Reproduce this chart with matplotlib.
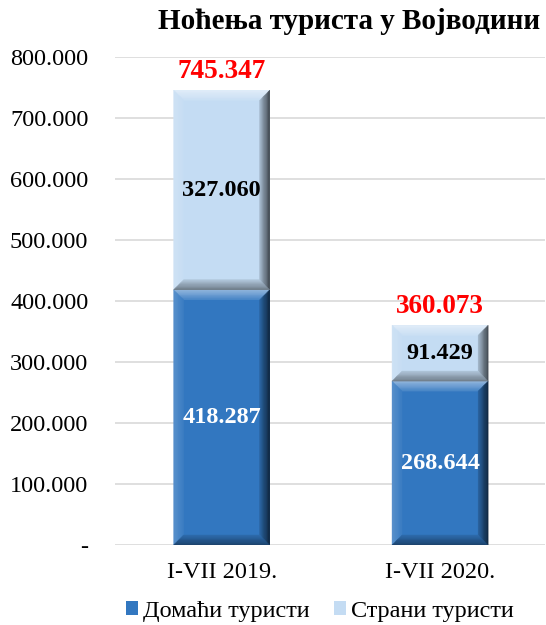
import matplotlib
matplotlib.use('Agg')
import matplotlib.pyplot as plt
from matplotlib.patches import Polygon
import numpy as np

categories = ['I-VII 2019.', 'I-VII 2020.']
domestic = [418287, 268644]
foreign = [327060, 91429]
totals = [745347, 360073]
series_names = ['Домаћи туристи', 'Страни туристи']
yticks = [0, 100000, 200000, 300000, 400000, 500000, 600000, 700000, 800000]
ytick_labels = ['-', '100.000', '200.000', '300.000', '400.000', '500.000', '600.000', '700.000', '800.000']
title = 'Ноћења туриста у Војводини'

plt.rcParams['font.family'] = ['Liberation Serif', 'DejaVu Serif']


def fmt(v):
    return f'{v:,}'.replace(',', '.')


def shade(color, f):
    c = np.array(matplotlib.colors.to_rgb(color))
    if f > 0:
        c = c + (1 - c) * f
    else:
        c = c * (1 + f)
    return tuple(np.clip(c, 0, 1))


# soft bevel built from the bar rectangles (pixel space -> data space)
def bevel(ax, patch, color, d=10, n=12):
    bb = patch.get_window_extent()
    x0, y0, x1, y1 = bb.x0, bb.y0, bb.x1, bb.y1
    inv = ax.transData.inverted()
    tone = {'top': 0.5, 'left': 0.2, 'right': -0.7, 'bottom': -0.45}
    for k in range(n):
        a = d * k / n
        b = d * (k + 1) / n
        frac = 1 - k / n
        quads = {
            'top': [(x0 + a, y1 - a), (x1 - a, y1 - a), (x1 - b, y1 - b), (x0 + b, y1 - b)],
            'left': [(x0 + a, y0 + a), (x0 + a, y1 - a), (x0 + b, y1 - b), (x0 + b, y0 + b)],
            'right': [(x1 - a, y0 + a), (x1 - a, y1 - a), (x1 - b, y1 - b), (x1 - b, y0 + b)],
            'bottom': [(x0 + a, y0 + a), (x1 - a, y0 + a), (x1 - b, y0 + b), (x0 + b, y0 + b)],
        }
        for side, p in quads.items():
            col = shade(color, tone[side] * (0.2 + 0.8 * frac))
            ax.add_patch(Polygon(inv.transform(p), closed=True, facecolor=col,
                                 edgecolor=col, linewidth=0.3, zorder=3))


fig = plt.figure(figsize=(5.46, 6.25), dpi=100)
ax = fig.add_axes([0.21, 0.128, 0.788, 0.781])

x = np.arange(len(categories))
w = 0.44
c_dom = '#3277c0'
c_for = '#c4dcf3'
b1 = ax.bar(x, domestic, w, color=c_dom, zorder=2, label=series_names[0])
b2 = ax.bar(x, foreign, w, bottom=domestic, color=c_for, zorder=2, label=series_names[1])

ax.set_xlim(-0.49, 1.48)
ax.set_ylim(0, 800000)
ax.set_yticks(yticks)
ax.set_yticklabels(ytick_labels, fontsize=17.5)
ax.set_xticks(x)
ax.set_xticklabels(categories, fontsize=17.5)
ax.tick_params(length=0)
ax.tick_params(axis='x', pad=12)
ax.tick_params(axis='y', pad=19)
ax.grid(axis='y', color='#d9d9d9', linewidth=1.2, zorder=0)
ax.set_axisbelow(True)
for s in ax.spines.values():
    s.set_visible(False)

for p in b1:
    bevel(ax, p, c_dom)
for p in b2:
    bevel(ax, p, c_for)

for i in range(len(categories)):
    ax.text(x[i], domestic[i] / 2, fmt(domestic[i]), ha='center', va='center',
            fontsize=17.5, fontweight='bold', color='white', zorder=5)
    ax.text(x[i], domestic[i] + foreign[i] / 2, fmt(foreign[i]), ha='center', va='center',
            fontsize=17.5, fontweight='bold', color='black', zorder=5)
    ax.text(x[i], totals[i] + 10000, fmt(totals[i]), ha='center', va='bottom',
            fontsize=19.5, fontweight='bold', color='red', zorder=5)

fig.text(0.639, 0.965, title, ha='center', va='center', fontsize=21, fontweight='bold')

fig.legend(handles=[b1, b2], labels=series_names, loc='center', bbox_to_anchor=(0.585, 0.022),
           ncol=2, frameon=False, fontsize=17.5, handlelength=0.5, handleheight=0.5,
           handletextpad=0.2, columnspacing=1.0, borderpad=0.1)

fig.savefig('out.png', dpi=100)
